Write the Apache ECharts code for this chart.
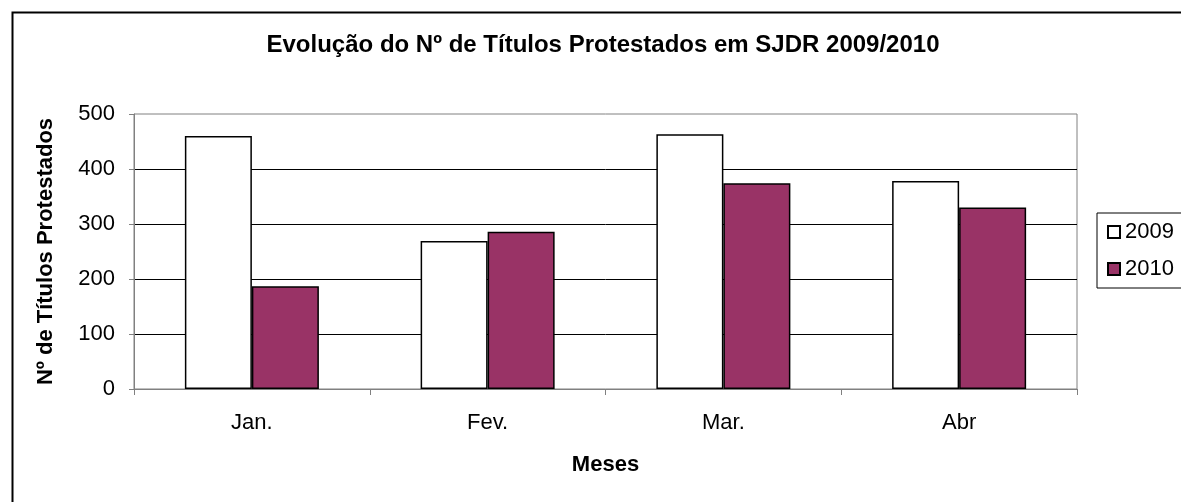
<!DOCTYPE html>
<html><head><meta charset="utf-8">
<script src="https://cdn.jsdelivr.net/npm/echarts@6/dist/echarts.min.js"></script>
<style>html,body{margin:0;padding:0;background:#fff}#c{width:1181px;height:502px}</style>
</head><body><div id="c"></div>
<script>
const categories = ['Jan.', 'Fev.', 'Mar.', 'Abr'];
const values2009 = [460, 269, 463, 378];
const values2010 = [187, 286, 374, 330];
const seriesNames = ['2009', '2010'];

const chart = echarts.init(document.getElementById('c'), null, {renderer: 'canvas'});
const font = 'Liberation Sans, Arial, sans-serif';
chart.setOption({
  animation: false,
  backgroundColor: '#fff',
  title: {
    text: 'Evolução do Nº de Títulos Protestados em SJDR 2009/2010',
    left: 598, top: 28, textAlign: 'center',
    textStyle: {fontFamily: font, fontSize: 24, fontWeight: 'bold', color: '#000'}
  },
  graphic: [{
    type: 'rect', left: 10, top: 10, z: 100, silent: true,
    shape: {width: 1200, height: 520},
    style: {fill: 'none', stroke: '#000', lineWidth: 2}
  }],
  legend: {
    orient: 'vertical', left: 1097, top: 213,
    padding: [8, 30, 8, 10], itemGap: 15,
    itemWidth: 12, itemHeight: 12, icon: 'rect',
    borderColor: '#000', borderWidth: 1,
    textStyle: {fontFamily: font, fontSize: 22, color: '#000'},
    data: seriesNames
  },
  grid: {left: 134, right: 104, top: 114, bottom: 113, show: true, borderColor: '#808080', borderWidth: 1, backgroundColor: '#fff'},
  xAxis: {
    type: 'category', data: categories,
    name: 'Meses', nameLocation: 'middle', nameGap: 65,
    nameTextStyle: {fontFamily: font, fontSize: 22, fontWeight: 'bold', color: '#000'},
    axisLine: {lineStyle: {color: '#808080', width: 1}},
    axisTick: {show: true, length: 6, lineStyle: {color: '#808080'}},
    axisLabel: {fontFamily: font, fontSize: 22, color: '#000', margin: 23}
  },
  yAxis: {
    type: 'value', min: 0, max: 500, interval: 100,
    name: 'Nº de Títulos Protestados', nameLocation: 'middle', nameGap: 77,
    nameTextStyle: {fontFamily: font, fontSize: 22, fontWeight: 'bold', color: '#000'},
    axisLine: {show: true, lineStyle: {color: '#808080', width: 1}},
    axisTick: {show: true, length: 5, lineStyle: {color: '#808080'}},
    axisLabel: {fontFamily: font, fontSize: 22, color: '#000', margin: 19},
    splitLine: {show: true, showMaxLine: false, lineStyle: {color: '#000', width: 1}}
  },
  series: [
    {name: seriesNames[0], type: 'bar', data: values2009, barWidth: 67, barGap: '0%',
     itemStyle: {color: '#ffffff', borderColor: '#000', borderWidth: 1.5}},
    {name: seriesNames[1], type: 'bar', data: values2010, barWidth: 67, barGap: '0%',
     itemStyle: {color: '#993366', borderColor: '#000', borderWidth: 1.5}}
  ]
});
</script></body></html>
